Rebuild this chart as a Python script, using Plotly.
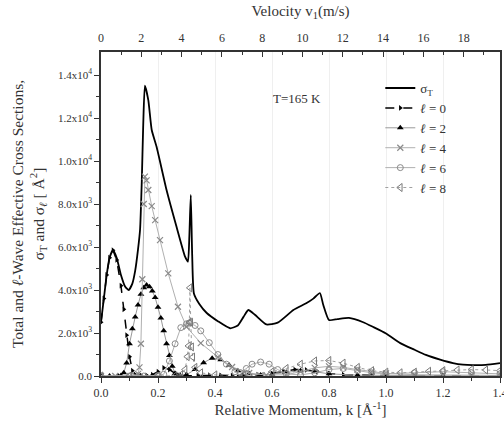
import plotly.graph_objects as go

# ---------------- data ----------------
k_T = [0, 0.01, 0.02, 0.03, 0.042, 0.055, 0.07, 0.085, 0.097, 0.11, 0.12, 0.13, 0.137,
       0.143, 0.148, 0.154, 0.166, 0.178, 0.195, 0.23, 0.265, 0.295, 0.305, 0.31, 0.315,
       0.32, 0.326, 0.345, 0.371, 0.41, 0.453, 0.48, 0.5, 0.517, 0.54, 0.58, 0.62, 0.675,
       0.72, 0.745, 0.768, 0.78, 0.80, 0.83, 0.87, 0.92, 0.955, 1.0, 1.05, 1.1, 1.14, 1.19,
       1.235, 1.27, 1.305, 1.35, 1.4]
sigma_T = [2500, 3600, 4700, 5500, 5850, 5500, 4700, 4150, 4000, 4300, 4900, 5900, 6800,
           9000, 11600, 13500, 12830, 11440, 10660, 8650, 6940, 5550, 5320, 6500, 8420,
           5600, 3840, 3350, 2930, 2550, 2220, 2350, 2750, 3070, 2850, 2400, 2480, 3070,
           3380, 3600, 3860, 3300, 2600, 2650, 2700, 2500, 2280, 1980, 1530, 1220, 980, 760,
           600, 530, 510, 520, 600]

k_l0 = [0, 0.01, 0.02, 0.03, 0.042, 0.055, 0.07, 0.08, 0.09, 0.1, 0.11, 0.12, 0.14, 0.16,
        0.18, 0.2, 0.22, 0.24, 0.26, 0.28, 0.3, 0.34, 0.38, 0.42, 0.46, 0.5, 0.55, 0.6, 0.64,
        0.68, 0.72, 0.76, 0.8, 0.85, 0.9, 0.95, 1.0, 1.1, 1.2, 1.3, 1.4]
sigma_l0 = [2500, 3600, 4700, 5500, 5850, 5400, 4200, 3100, 1900, 900, 250, 60, 30, 30,
            60, 200, 380, 300, 120, 30, 10, 20, 40, 30, 20, 30, 60, 120, 220, 300, 280, 200,
            120, 60, 40, 30, 20, 15, 10, 10, 10]

k_l2 = [0, 0.03, 0.06, 0.07, 0.08, 0.09, 0.1, 0.11, 0.12, 0.13, 0.14, 0.15, 0.16, 0.17,
        0.18, 0.19, 0.2, 0.21, 0.22, 0.23, 0.24, 0.25, 0.26, 0.27, 0.3, 0.33, 0.36, 0.39,
        0.42, 0.45, 0.48, 0.52, 0.56, 0.6, 0.65, 0.7, 0.75, 0.8, 0.9, 1.0, 1.2, 1.4]
sigma_l2 = [0, 0, 0, 20, 150, 600, 1500, 2200, 2750, 3300, 3800, 4100, 4230, 4150, 3950,
            3650, 3200, 2700, 2100, 1500, 950, 450, 120, 30, 60, 300, 620, 830, 760, 500,
            250, 100, 50, 80, 180, 250, 200, 100, 40, 20, 10, 10]

k_l4 = [0, 0.05, 0.1, 0.12, 0.13, 0.135, 0.14, 0.145, 0.15, 0.154, 0.16, 0.166, 0.178,
        0.19, 0.207, 0.236, 0.27, 0.3, 0.35, 0.41, 0.46, 0.52, 0.58, 0.65, 0.7, 0.75, 0.8,
        0.85, 0.9, 0.95, 1.0, 1.1, 1.2, 1.3, 1.4]
sigma_l4 = [0, 0, 0, 20, 100, 400, 1500, 4500, 8000, 9270, 9100, 8650, 7900, 7250, 6320,
            4770, 3220, 2290, 1530, 880, 420, 140, 40, 60, 200, 380, 450, 400, 300, 200,
            120, 60, 40, 30, 30]

k_l6 = [0, 0.1, 0.15, 0.2, 0.22, 0.24, 0.26, 0.28, 0.3, 0.31, 0.33, 0.35, 0.38, 0.41,
        0.44, 0.47, 0.49, 0.51, 0.53, 0.56, 0.59, 0.62, 0.65, 0.7, 0.75, 0.8, 0.85, 0.9,
        0.95, 1.0, 1.1, 1.2, 1.3, 1.4]
sigma_l6 = [0, 0, 0, 20, 80, 700, 1500, 2250, 2430, 2460, 2350, 2100, 1550, 1000, 550,
            200, 150, 350, 550, 650, 550, 300, 100, 50, 150, 300, 350, 250, 150, 100, 150,
            200, 150, 100]

k_l8 = [0, 0.1, 0.2, 0.26, 0.28, 0.295, 0.303, 0.307, 0.31, 0.312, 0.315, 0.318, 0.322,
        0.33, 0.35, 0.4, 0.5, 0.6, 0.65, 0.7, 0.75, 0.8, 0.85, 0.9, 0.95, 1.0, 1.05, 1.1,
        1.15, 1.2, 1.25, 1.3, 1.35, 1.4]
sigma_l8 = [0, 0, 0, 10, 50, 300, 900, 1400, 2500, 4100, 2500, 1350, 880, 400, 150, 50,
            60, 200, 350, 550, 700, 720, 600, 400, 250, 180, 150, 180, 220, 250, 280, 300,
            280, 250]

k_tickvals = [0, 0.2, 0.4, 0.6, 0.8, 1.0, 1.2, 1.4]
k_ticktext = ["0.0", "0.2", "0.4", "0.6", "0.8", "1.0", "1.2", "1.4"]
y_tickvals = [0, 2000, 4000, 6000, 8000, 10000, 12000, 14000]
y_ticktext = ["0.0", "2.0x10<sup>3</sup>", "4.0x10<sup>3</sup>", "6.0x10<sup>3</sup>",
              "8.0x10<sup>3</sup>", "1.0x10<sup>4</sup>", "1.2x10<sup>4</sup>",
              "1.4x10<sup>4</sup>"]
v_tickvals = [0, 2, 4, 6, 8, 10, 12, 14, 16, 18]

FONT = "Liberation Serif, Times New Roman, serif"

fig = go.Figure()

fig.add_trace(go.Scatter(x=k_T, y=sigma_T, mode="lines", name="σ<sub>T</sub>",
                         line=dict(color="black", width=1.8, shape="spline", smoothing=0.5)))
fig.add_trace(go.Scatter(x=k_l0, y=sigma_l0, mode="lines+markers", name="<i>ℓ</i> = 0",
                         line=dict(color="black", width=1.5, dash="dash"),
                         marker=dict(symbol="triangle-right", size=5, color="black")))
fig.add_trace(go.Scatter(x=k_l2, y=sigma_l2, mode="lines+markers", name="<i>ℓ</i> = 2",
                         line=dict(color="#999999", width=1),
                         marker=dict(symbol="triangle-up", size=6, color="black")))
fig.add_trace(go.Scatter(x=k_l4, y=sigma_l4, mode="lines+markers", name="<i>ℓ</i> = 4",
                         line=dict(color="#b0b0b0", width=1),
                         marker=dict(symbol="x-thin", size=6,
                                     line=dict(color="#8a8a8a", width=1.2))))
fig.add_trace(go.Scatter(x=k_l6, y=sigma_l6, mode="lines+markers", name="<i>ℓ</i> = 6",
                         line=dict(color="#b0b0b0", width=1),
                         marker=dict(symbol="circle-open", size=6, color="#8a8a8a")))
fig.add_trace(go.Scatter(x=k_l8, y=sigma_l8, mode="lines+markers", name="<i>ℓ</i> = 8",
                         line=dict(color="#a0a0a0", width=1, dash="dot"),
                         marker=dict(symbol="triangle-left-open", size=7, color="#7a7a7a")))
# invisible trace so the top (velocity) axis is drawn
fig.add_trace(go.Scatter(x=v_tickvals, y=[None] * len(v_tickvals), xaxis="x2",
                         mode="markers", showlegend=False, hoverinfo="skip"))

fig.update_layout(
    width=504, height=428,
    margin=dict(l=101, r=4, t=52, b=52, autoexpand=False),
    paper_bgcolor="white", plot_bgcolor="white",
    font=dict(family=FONT, size=12, color="#333333"),
    showlegend=True,
    legend=dict(x=0.70, y=0.935, xanchor="left", yanchor="top",
                bgcolor="rgba(0,0,0,0)", font=dict(size=13, family=FONT),
                tracegroupgap=0, itemwidth=30),
    xaxis=dict(range=[0, 1.4], tickvals=k_tickvals, ticktext=k_ticktext,
               ticks="outside", ticklen=5, tickwidth=1, tickcolor="#333",
               ticklabeloverflow="allow",
               minor=dict(dtick=0.1, ticks="outside", ticklen=3, tickcolor="#333", showgrid=False),
               showline=True, linecolor="#333", linewidth=1.5, automargin=False,
               showgrid=True, gridcolor="#efefef", gridwidth=1, zeroline=False,
               tickfont=dict(size=12, family=FONT),
               title=dict(text="Relative Momentum, k [Å<sup>-1</sup>]", standoff=2,
                          font=dict(size=15, family=FONT))),
    xaxis2=dict(range=[0, 19.8], overlaying="x", side="top", anchor="y",
                tickvals=v_tickvals, ticks="inside", ticklen=5, tickcolor="#333",
                ticklabelstandoff=3, automargin=False,
                minor=dict(dtick=1, ticks="inside", ticklen=3, tickcolor="#333", showgrid=False),
                showline=True, linecolor="#333", linewidth=1.5, showgrid=False, zeroline=False,
                tickfont=dict(size=12, family=FONT),
                title=dict(text="Velocity v<sub>1</sub>(m/s)", standoff=11,
                           font=dict(size=15, family=FONT))),
    yaxis=dict(range=[0, 15070], tickvals=y_tickvals, ticktext=y_ticktext,
               ticks="outside", ticklen=5, tickcolor="#333", automargin=False,
               minor=dict(tickvals=[1000, 3000, 5000, 7000, 9000, 11000, 13000],
                          ticks="outside", ticklen=3, tickcolor="#333", showgrid=False),
               showline=True, linecolor="#333", linewidth=1.5, mirror=True,
               showgrid=False, zeroline=False,
               tickfont=dict(size=11, family=FONT),
               title=dict(text="Total and <i>ℓ</i>-Wave Effective Cross Sections,<br>"
                               "σ<sub>T</sub> and σ<sub><i>ℓ</i></sub> [ Å<sup>2</sup>]",
                          standoff=10, font=dict(size=15.5, family=FONT))),
    annotations=[dict(text="T=165 K", x=0.49, y=0.885, xref="paper", yref="paper",
                      showarrow=False, font=dict(size=13, family=FONT, color="#333"))],
)

fig.write_html("out.html", config={"displayModeBar": False},
               post_script="document.body.style.margin='0';document.body.style.overflow='hidden';")
